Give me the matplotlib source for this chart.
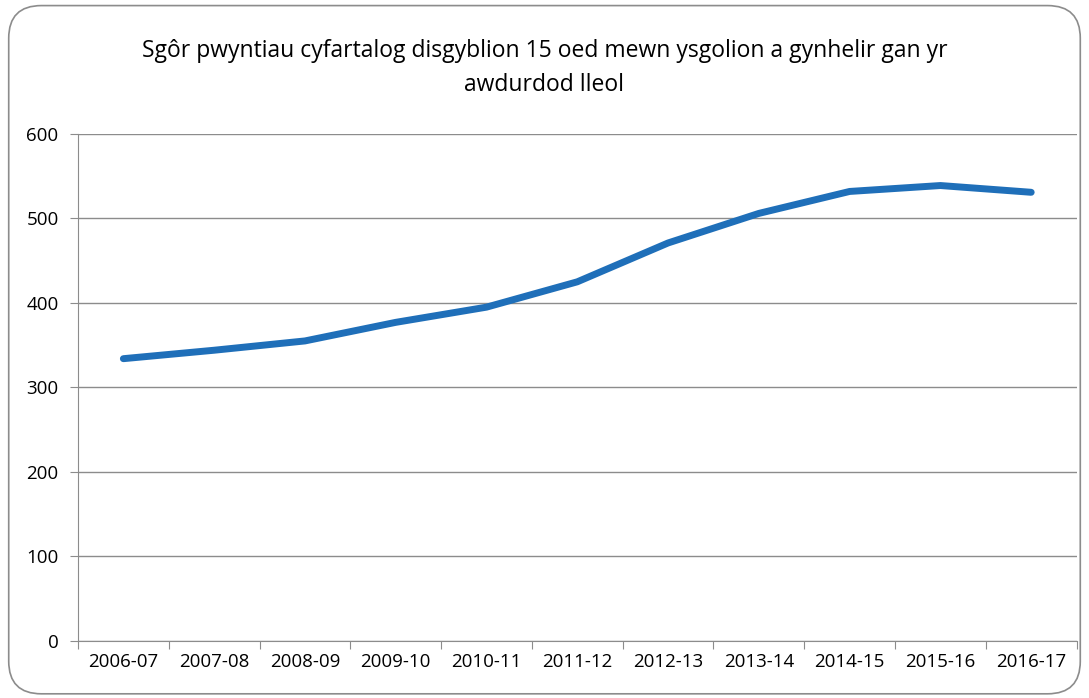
import matplotlib.pyplot as plt
from matplotlib.patches import FancyBboxPatch

years = ['2006-07', '2007-08', '2008-09', '2009-10', '2010-11', '2011-12',
         '2012-13', '2013-14', '2014-15', '2015-16', '2016-17']
scores = [334, 344, 355, 377, 395, 425, 471, 506, 532, 539, 531]
yticks = [0, 100, 200, 300, 400, 500, 600]
title = 'Sgôr pwyntiau cyfartalog disgyblion 15 oed mewn ysgolion a gynhelir gan yr\nawdurdod lleol'

plt.rcParams['font.family'] = ['Open Sans', 'DejaVu Sans']

fig = plt.figure(figsize=(10.89, 6.98), dpi=100)
# rounded chart frame, behind the axes
frame = FancyBboxPatch((0.008, 0.006), 0.984, 0.986, boxstyle='round,pad=0,rounding_size=0.03',
                       transform=fig.transFigure, facecolor='none', edgecolor='#8c8c8c', lw=1.2,
                       mutation_aspect=1.56, zorder=-1)
fig.patches.append(frame)

ax = fig.add_axes([0.0716, 0.082, 0.917, 0.726])
ax.patch.set_alpha(0)
x = list(range(len(years)))
ax.plot(x, scores, color='#1f6fb9', lw=5, solid_capstyle='round', solid_joinstyle='round')

ax.set_xlim(-0.5, len(years) - 0.5)
ax.set_ylim(0, 600)
ax.set_yticks(yticks)
ax.set_yticklabels([str(v) for v in yticks], fontsize=13.5)
ax.grid(axis='y', color='#8c8c8c', lw=1)
ax.set_axisbelow(True)

ax.set_xticks([i - 0.5 for i in range(len(years) + 1)])
ax.set_xticklabels([])
ax.set_xticks(x, minor=True)
ax.set_xticklabels(years, minor=True, fontsize=13.5)
ax.tick_params(axis='x', which='major', length=6, color='#8c8c8c', direction='out')
ax.tick_params(axis='x', which='minor', length=0, pad=9)
ax.tick_params(axis='y', length=6, color='#8c8c8c', pad=8)

for s in ['top', 'right']:
    ax.spines[s].set_visible(False)
for s in ['left', 'bottom']:
    ax.spines[s].set_color('#8c8c8c')

fig.text(0.5, 0.902, title, ha='center', va='center', fontsize=16.5, linespacing=1.55)

fig.savefig('out.png', dpi=100)
